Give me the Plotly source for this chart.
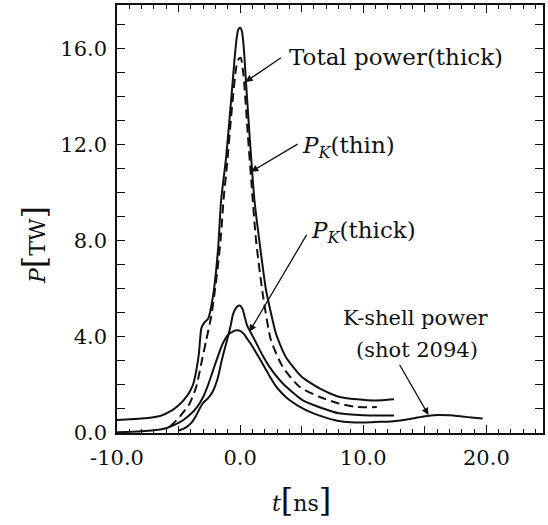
import plotly.graph_objects as go

# Total radiated power, optically thick model
t_total = [-10, -8, -6.5, -5.5, -5, -4.5, -4.1, -3.8, -3.56, -3.35, -3.25, -3.15, -2.9, -2.6,
           -2.2, -1.8, -1.54, -1.13, -0.73, -0.46, -0.3, -0.15, 0.0, 0.15, 0.3, 0.49, 0.75, 1.16,
           1.56, 2.1, 2.5, 2.9, 3.7, 5.0, 6.7, 8.0, 9.5, 11.0, 12.5]
p_total = [0.54, 0.6, 0.71, 0.95, 1.15, 1.42, 1.72, 2.05, 2.6, 3.3, 3.9, 4.35, 4.6, 4.75,
           5.7, 7.6, 9.7, 11.5, 13.85, 15.5, 16.35, 16.78, 16.85, 16.7, 16.0, 14.5, 12.5, 9.7,
           8.0, 5.95, 5.0, 4.15, 3.17, 2.34, 1.79, 1.51, 1.4, 1.35, 1.4]

# K-shell power, optically thin model (dashed)
t_thin = [-5.7, -4.9, -4.1, -3.56, -3.15, -2.75, -2.35, -2.08, -1.81, -1.54, -1.35, -1.08,
          -0.73, -0.32, -0.12, 0.05, 0.27, 0.62, 0.95, 1.29, 1.83, 2.5, 3.45, 4.8, 6.4, 8.0, 9.5, 11.1]
p_thin = [0.26, 0.68, 1.23, 1.93, 2.9, 3.87, 4.84, 5.81, 6.92, 8.3, 9.69, 11.07,
          13.15, 15.2, 15.55, 15.6, 14.9, 12.46, 10.2, 8.03, 5.81, 3.87, 2.76, 1.93, 1.51, 1.23, 1.08, 1.08]

# K-shell power, optically thick model
t_thick = [-5.0, -4.5, -4.0, -3.6, -3.3, -3.0, -2.6, -2.2, -1.81, -1.5, -1.2, -0.92, -0.73,
           -0.6, -0.4, -0.2, 0.0, 0.2, 0.35, 0.55, 0.75, 1.0, 1.3, 1.8, 2.37, 3.45, 5.06,
           6.68, 8.03, 10.0, 12.5]
p_thick = [0.1, 0.2, 0.4, 0.7, 1.0, 1.25, 1.45, 1.75, 2.3, 3.0, 3.6, 4.14, 4.56,
           4.9, 5.15, 5.28, 5.3, 5.15, 4.88, 4.5, 4.28, 4.05, 3.75, 3.25, 2.76, 2.07, 1.37,
           1.03, 0.82, 0.74, 0.73]

# Measured K-shell power, shot 2094
t_shot = [-10, -8, -6.5, -6, -5.5, -5, -4.5, -4, -3.5, -3, -2.6, -2.3, -1.9, -1.4, -1.0,
          -0.6, -0.3, 0.0, 0.3, 0.6, 1.0, 1.4, 1.8, 2.3, 2.9, 3.5, 4.0, 5.3, 6.7, 8.0, 9.0,
          10.0, 11.0, 12.0, 13.0, 14.0, 15.0, 16.0, 17.0, 18.0, 19.0, 19.7]
p_shot = [0.03, 0.07, 0.15, 0.2, 0.3, 0.42, 0.58, 0.8, 1.08, 1.5, 2.0, 2.45, 3.05, 3.73, 4.07,
          4.22, 4.27, 4.25, 4.12, 3.9, 3.6, 3.25, 2.9, 2.45, 1.95, 1.6, 1.37, 0.96, 0.68, 0.5, 0.45,
          0.44, 0.46, 0.47, 0.52, 0.6, 0.7, 0.75, 0.74, 0.69, 0.63, 0.6]

x_ticks = [-10, 0, 10, 20]
x_labels = ["-10.0", "0.0", "10.0", "20.0"]
y_ticks = [0, 4, 8, 12, 16]
y_labels = ["0.0", "4.0", "8.0", "12.0", "16.0"]
X_RANGE = [-10, 24.6]
Y_RANGE = [0, 17.8]

FONT = "DejaVu Serif"
BLACK = "#111111"

fig = go.Figure()
solid = dict(color=BLACK, width=2, shape="spline", smoothing=0.6)
fig.add_trace(go.Scatter(x=t_total, y=p_total, mode="lines", line=solid))
fig.add_trace(go.Scatter(x=t_thin, y=p_thin, mode="lines",
                         line=dict(color=BLACK, width=2, dash="9px,5px", shape="spline", smoothing=0.6)))
fig.add_trace(go.Scatter(x=t_thick, y=p_thick, mode="lines", line=solid))
fig.add_trace(go.Scatter(x=t_shot, y=p_shot, mode="lines", line=solid))

axis_common = dict(
    showline=True, linecolor=BLACK, linewidth=1.5, mirror="allticks",
    ticks="inside", ticklen=8, tickwidth=1.2, tickcolor=BLACK,
    showgrid=False, zeroline=False,
    tickfont=dict(family=FONT, size=21, color=BLACK),
)
fig.update_xaxes(range=X_RANGE, tickmode="array", tickvals=x_ticks, ticktext=x_labels,
                 minor=dict(dtick=1, ticks="inside", ticklen=4, tickcolor=BLACK, tickwidth=1),
                 ticklabelstandoff=5, **axis_common)
fig.update_yaxes(range=Y_RANGE, tickmode="array", tickvals=y_ticks, ticktext=y_labels,
                 minor=dict(dtick=1, ticks="inside", ticklen=5, tickcolor=BLACK, tickwidth=1),
                 ticklabelstandoff=4, **axis_common)

# unlabeled medium ticks every 5 ns on the time axis (top and bottom)
fig.update_layout(xaxis2=dict(
    overlaying="x", anchor="y", side="bottom", range=X_RANGE, dtick=5, tick0=0,
    ticks="inside", ticklen=7, tickwidth=1.2, tickcolor=BLACK, mirror="ticks",
    showticklabels=False, showgrid=False, zeroline=False, showline=False,
))
# invisible helper trace so the second time axis is drawn
fig.add_trace(go.Scatter(x=[X_RANGE[0]], y=[Y_RANGE[0]], xaxis="x2", mode="lines",
                         line=dict(width=0), hoverinfo="skip"))

def arrow(x, y, ax, ay):
    fig.add_annotation(x=x, y=y, ax=ax, ay=ay, xref="x", yref="y", axref="x", ayref="y",
                       text="", showarrow=True, arrowhead=2, arrowsize=1.1, arrowwidth=1.3,
                       arrowcolor=BLACK, standoff=0, startstandoff=0)

def label(x, y, text, xanchor="left", size=22):
    fig.add_annotation(x=x, y=y, xref="x", yref="y", text=text, showarrow=False,
                       xanchor=xanchor, yanchor="middle",
                       font=dict(family=FONT, size=size, color=BLACK))

arrow(0.43, 14.6, 3.44, 15.65)
label(3.82, 15.63, "Total power(thick)", size=23)
arrow(0.89, 10.87, 4.79, 12.05)
label(4.87, 11.89, "<i>P</i><sub><i>K</i></sub>(thin)", size=23)
arrow(0.75, 4.21, 5.47, 8.3)
label(5.6, 8.36, "<i>P</i><sub><i>K</i></sub>(thick)", size=23)
arrow(15.3, 0.75, 12.88, 2.9)
label(14.29, 4.78, "K-shell power", xanchor="center", size=21)
label(14.33, 3.45, "(shot 2094)", xanchor="center", size=21)

# axis titles
fig.add_annotation(x=-0.195, y=0.439, xref="paper", yref="paper", showarrow=False,
                   xanchor="center", yanchor="middle", textangle=-90,
                   font=dict(family=FONT, size=22, color=BLACK),
                   text='<i>P</i><span style="font-size:32px">[</span>TW<span style="font-size:32px">]</span>')
fig.add_annotation(x=0.432, y=-0.157, xref="paper", yref="paper", showarrow=False,
                   xanchor="center", yanchor="middle",
                   font=dict(family=FONT, size=22, color=BLACK),
                   text='<i>t</i><span style="font-size:32px">[</span>ns<span style="font-size:32px">]</span>')

fig.update_layout(
    width=548, height=525, showlegend=False,
    margin=dict(l=117, r=3, t=5, b=92),
    paper_bgcolor="white", plot_bgcolor="white",
)

fig.write_html("out.html")
